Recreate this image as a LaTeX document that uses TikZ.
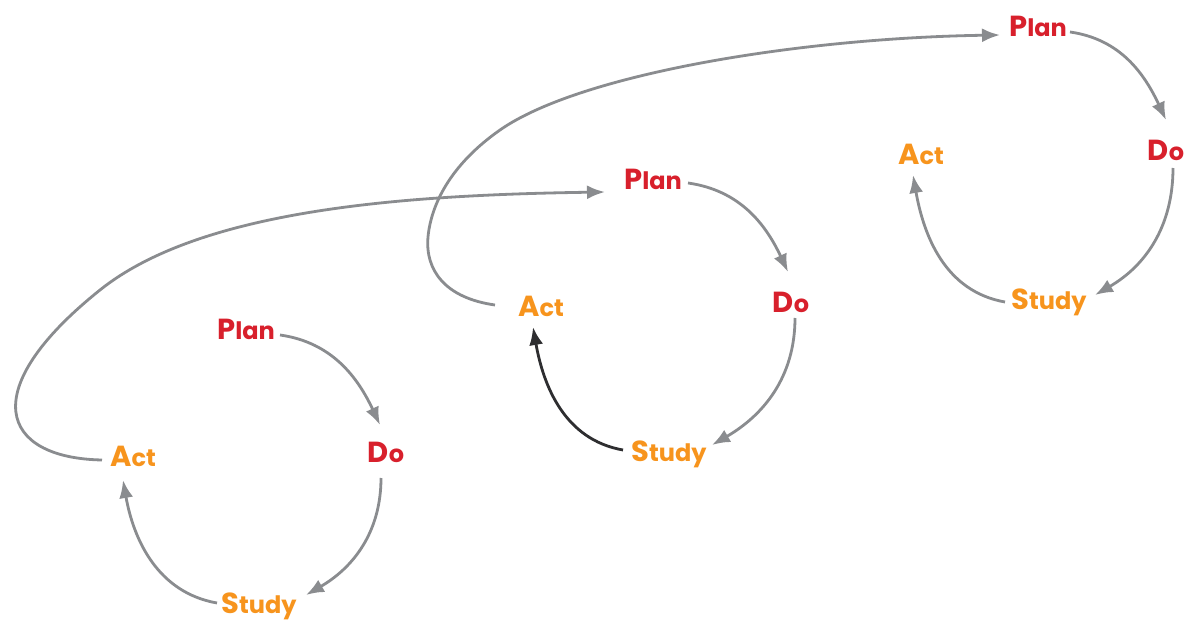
\documentclass[tikz,border=0pt]{standalone}
\usepackage{fontspec}
\setmainfont{Poppins}
\usetikzlibrary{arrows.meta}
\definecolor{pdred}{HTML}{D8202C}
\definecolor{pdorange}{HTML}{F7941D}
\definecolor{arrgray}{HTML}{8A8C8F}
\definecolor{arrdark}{HTML}{2E2E30}
\newcommand\pdlab[3]{{\color{#1}\bfseries\fontsize{29}{30}\selectfont #2\fontsize{24}{26}\selectfont #3}}
\begin{document}
\begin{tikzpicture}[x=1pt,y=1pt,
  lab/.style={inner sep=0pt},
  arr/.style={draw=arrgray, line width=2.8pt, -{Latex[length=18pt,width=14pt]}},
  darr/.style={arr, draw=arrdark}]
\useasboundingbox (0,0) rectangle (1187,625);
\fill[white] (0,0) rectangle (1187,625);
% cycle 1
\node[lab] (P1) at (246,296) {\pdlab{pdred}{P}{lan}};
\node[lab] (D1) at (386,173) {\pdlab{pdred}{D}{o}};
\node[lab] (S1) at (259,19) {\pdlab{pdorange}{S}{tudy}};
\node[lab] (A1) at (133,169) {\pdlab{pdorange}{A}{ct}};
% cycle 2
\node[lab] (P2) at (653,446) {\pdlab{pdred}{P}{lan}};
\node[lab] (D2) at (791,323) {\pdlab{pdred}{D}{o}};
\node[lab] (S2) at (669,171) {\pdlab{pdorange}{S}{tudy}};
\node[lab] (A2) at (541,319) {\pdlab{pdorange}{A}{ct}};
% cycle 3
\node[lab] (P3) at (1038,599) {\pdlab{pdred}{P}{lan}};
\node[lab] (D3) at (1166,475) {\pdlab{pdred}{D}{o}};
\node[lab] (S3) at (1049,323) {\pdlab{pdorange}{S}{tudy}};
\node[lab] (A3) at (921,471) {\pdlab{pdorange}{A}{ct}};
% cycle 1 arrows
\draw[arr] ([shift={(34,-6)}]P1.center) to[out=-8,in=115] ([shift={(-6,27)}]D1.center);
\draw[arr] ([shift={(-5,-26)}]D1.center) to[out=-90,in=30] ([shift={(47,11)}]S1.center);
\draw[arr] ([shift={(-42,3)}]S1.center) to[out=170,in=-80] ([shift={(-10,-24)}]A1.center);
% cycle 2 arrows
\draw[arr] ([shift={(35,-4)}]P2.center) to[out=-8,in=115] ([shift={(-3,30)}]D2.center);
\draw[arr] ([shift={(4,-16)}]D2.center) to[out=-90,in=30] ([shift={(43,9)}]S2.center);
\draw[darr] ([shift={(-46,4)}]S2.center) to[out=170,in=-80] ([shift={(-8,-21)}]A2.center);
% cycle 3 arrows
\draw[arr] ([shift={(32,-6)}]P3.center) to[out=-8,in=115] ([shift={(0,30)}]D3.center);
\draw[arr] ([shift={(7,-18)}]D3.center) to[out=-90,in=30] ([shift={(46,7)}]S3.center);
\draw[arr] ([shift={(-44,0)}]S3.center) to[out=170,in=-80] ([shift={(-8,-21)}]A3.center);
% long links
\draw[arr] ([shift={(-31,-4)}]A1.center) .. controls (0,167) and (-25,235) .. (100,335)
  .. controls (200,415) and (400,430) .. ([shift={(-48,-13)}]P2.center);
\draw[arr] ([shift={(-46,1)}]A2.center) .. controls (445,327) and (425,355) .. (428,388)
  .. controls (431,420) and (450,460) .. (500,495)
  .. controls (580,551) and (800,587) .. ([shift={(-38,-9)}]P3.center);
\end{tikzpicture}
\end{document}
